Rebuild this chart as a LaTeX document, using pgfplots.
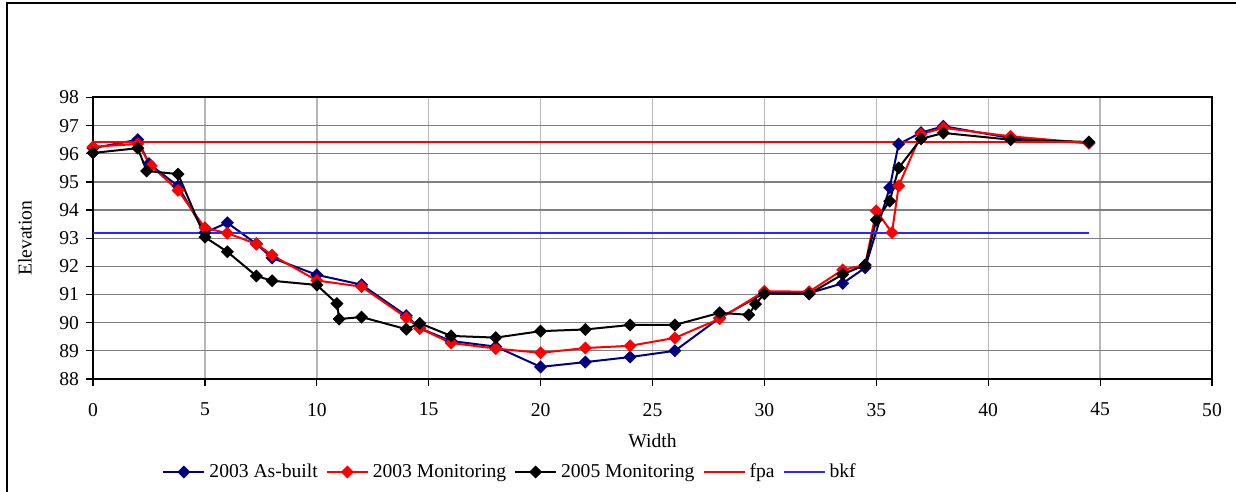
\documentclass[border=0pt]{standalone}
\usepackage{fontspec}
\setmainfont{Liberation Serif}
\usepackage{pgfplots}
\pgfplotsset{compat=1.18}
\definecolor{asb}{RGB}{0,0,128}
\definecolor{mon}{RGB}{255,0,0}
\definecolor{bkfc}{RGB}{40,40,255}
\begin{document}
\begin{tikzpicture}[font=\fontsize{9.8bp}{11.5bp}\selectfont]
\useasboundingbox (-46.5bp,-56.5bp) rectangle (571.5bp,189.5bp);
\draw[line width=0.75bp] (-43bp,-60bp) -- (-43bp,188bp) -- (580bp,188bp);
\begin{axis}[
  at={(0,0)}, anchor=south west, scale only axis,
  width=559.5bp, height=140.75bp,
  xmin=0, xmax=50, ymin=88, ymax=98,
  xtick={0,5,...,50}, ytick={88,89,...,98},
  /pgf/number format/assume math mode=true,
  tick label style={font=\fontsize{9.8bp}{11.5bp}\selectfont},
  x tick label style={yshift=-5bp},
  tick align=outside, xtick pos=left, ytick pos=left,
  major tick length=3.5bp,
  tick style={black, line width=0.6bp},
  axis line style={black, line width=1bp},
  xmajorgrids, ymajorgrids,
  x grid style={black!28, line width=0.7bp},
  y grid style={black!50, line width=0.6bp},
  xlabel={Width}, ylabel={Elevation},
  xlabel style={at={(axis description cs:0.5,-0.2203)}, anchor=center},
  ylabel style={at={(axis description cs:-0.0608,0.5)}, anchor=center},
  legend style={at={(0.3736,-0.3304)}, anchor=center, draw=none, fill=none,
    font=\fontsize{9.8bp}{11.5bp}\selectfont,
    /tikz/every even column/.append style={column sep=2bp}},
  legend columns=-1,
  legend image code/.code={\draw[mark repeat=2,mark phase=2,#1] plot coordinates {(0bp,0bp) (10.25bp,0bp) (20.5bp,0bp)};},
  every axis plot/.append style={line width=1bp},
  mark size=1.8bp,
]
\addplot[color=asb, mark=square*, mark options={rotate=45, solid, fill=asb}] coordinates {
(0,96.2) (2,96.5) (2.5,95.65) (3.8,94.85) (5,93.2) (6,93.55) (7.3,92.8) (8,92.3)
(10,91.7) (12,91.35) (14,90.25) (14.6,89.8) (16,89.35) (18,89.15) (20,88.43)
(22,88.6) (24,88.78) (26,89.0) (28,90.17) (30,91.05) (32,91.05) (33.5,91.4)
(34.5,91.95) (35.6,94.8) (36,96.35) (37,96.75) (38,96.98) (41,96.56) (44.5,96.38)};
\addlegendentry{2003 As-built}
\addplot[color=mon, mark=square*, mark options={rotate=45, solid, fill=mon}] coordinates {
(0,96.25) (2,96.35) (2.6,95.57) (3.8,94.7) (5,93.37) (6,93.18) (7.3,92.8) (8,92.4)
(10,91.5) (12,91.28) (14,90.18) (14.6,89.8) (16,89.28) (18,89.08) (20,88.93)
(22,89.1) (24,89.18) (26,89.46) (28,90.14) (30,91.12) (32,91.1) (33.5,91.88)
(34.5,92.05) (35,93.97) (35.7,93.2) (36,94.86) (37,96.7) (38,96.92) (41,96.62) (44.5,96.38)};
\addlegendentry{2003 Monitoring}
\addplot[color=black, mark=square*, mark options={rotate=45, solid, fill=black}] coordinates {
(0,96.03) (2,96.2) (2.4,95.39) (3.8,95.28) (5,93.04) (6,92.52) (7.3,91.66) (8,91.49)
(10,91.34) (10.9,90.68) (11,90.13) (12,90.2) (14,89.77) (14.6,89.98) (16,89.53)
(18,89.47) (20,89.7) (22,89.76) (24,89.92) (26,89.92) (28,90.35) (29.3,90.28)
(29.6,90.66) (30,91.03) (32,91.02) (33.5,91.72) (34.5,92.05) (35,93.65) (35.6,94.32)
(36,95.5) (37,96.53) (38,96.74) (41,96.5) (44.5,96.42)};
\addlegendentry{2005 Monitoring}
\addplot[color=mon, mark=none] coordinates {(0,96.41) (44.5,96.41)};
\addlegendentry{fpa}
\addplot[color=bkfc, mark=none] coordinates {(0,93.2) (44.5,93.2)};
\addlegendentry{bkf}
\end{axis}
\end{tikzpicture}
\end{document}
